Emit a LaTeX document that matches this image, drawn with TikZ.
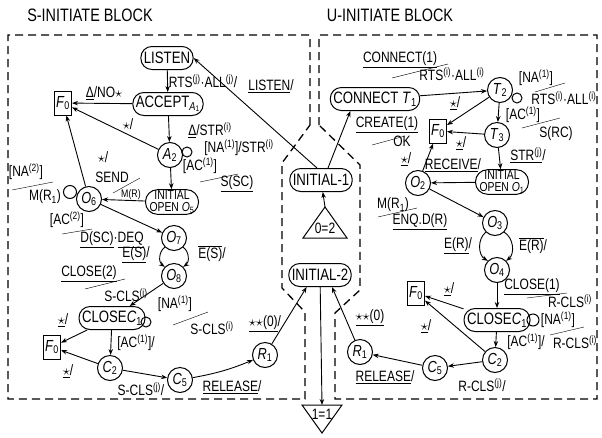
\documentclass[tikz,border=0pt]{standalone}
\usepackage{fontspec}
\setmainfont{Liberation Sans}[FakeStretch=0.8]
\usetikzlibrary{arrows.meta, positioning, calc}

\newcommand\stn[2]{\textit{#1}\textsubscript{#2}}
\newcommand\ovl[1]{$\overline{\mbox{#1}}$}

\tikzset{
  state/.style={draw, circle, minimum size=25pt, inner sep=0pt, line width=1pt, font=\fontsize{16}{16}\selectfont},
  blk/.style={draw, rounded corners=11pt, minimum height=23pt, inner xsep=3pt, line width=1pt, font=\fontsize{16.5}{16}\selectfont},
  twoline/.style={draw, rounded corners=12pt, align=center, inner xsep=4pt, inner ysep=1pt, line width=1pt, font=\fontsize{13}{11.5}\selectfont},
  fbox/.style={draw, minimum width=17pt, minimum height=24pt, inner sep=0pt, line width=1pt, font=\fontsize{16}{16}\selectfont},
  loopc/.style={draw, circle, minimum size=#1, inner sep=0pt, line width=1pt},
  lab/.style={inner sep=0.5pt},
  bound/.style={dash pattern=on 8pt off 5pt, line width=1.3pt},
  tr/.style={-{Stealth[length=6pt,width=4.5pt]}, line width=0.9pt},
}

\begin{document}
\begin{tikzpicture}[x=1pt, y=-1pt, font=\fontsize{15}{15}\selectfont]
  \useasboundingbox (0,0) rectangle (602,437);

  % block titles
  \node[font=\fontsize{18}{18}\selectfont] (stitle) at (90,15) {S-INITIATE BLOCK};
  \node[font=\fontsize{18}{18}\selectfont] (utitle) at (390,15) {U-INITIATE BLOCK};

  % block borders
  \draw[bound] (310,125) -- (310,35) -- (8,35) -- (8,399) -- (305,399) -- (305,312) -- (282,288) -- (282,163) -- cycle;
  \draw[bound] (319,125) -- (319,35) -- (597,35) -- (597,399) -- (335,399) -- (335,313) -- (360,290) -- (360,165) -- cycle;

  % S-initiate states
  \node[blk] (listen) at (167,58) {LISTEN};
  \node[blk] (accept) at (168,104) {ACCEPT\textsubscript{\textit{A}\textsubscript{1}}};
  \node[fbox] (fa) at (63,103) {\stn{F}{0}};
  \node[state] (a2) at (170,155) {\stn{A}{2}};
  \node[loopc=10pt] (a2loop) at (187,152) {};
  \node[twoline] (o5) at (172,202) {INITIAL\\OPEN \stn{O}{5}};
  \node[state] (o6) at (89,199) {\stn{O}{6}};
  \node[loopc=13pt] (o6loop) at (70,192) {};
  \node[state] (o7) at (174,238) {\stn{O}{7}};
  \node[state] (o8) at (174,276) {\stn{O}{8}};
  \node[blk] (closel) at (112,318) {CLOSE\stn{C}{1}};
  \node[loopc=10pt] (closelloop) at (146,322) {};
  \node[fbox] (fb) at (52,347) {\stn{F}{0}};
  \node[state] (c2l) at (110,368) {\stn{C}{2}};
  \node[state] (c5l) at (180,380) {\stn{C}{5}};
  \node[state] (r1l) at (265,355) {\stn{R}{1}};

  % middle
  \node[blk] (init1) at (321,180) {INITIAL-1};
  \draw[line width=1pt] (303,238) -- (325,207) -- (347,238) -- cycle;
  \coordinate (tritop) at (325,207);
  \node (tri) at (325,228) {0=2};
  \node[blk] (init2) at (320,275) {INITIAL-2};
  \draw[line width=1pt] (302,405) -- (342,405) -- (322,433) -- cycle;
  \coordinate (tribot) at (322,405);
  \node (trib) at (322,414) {1=1};

  % U-initiate states
  \node[blk] (conn) at (375,99) {CONNECT \stn{T}{1}};
  \node[state] (t2) at (500,90) {\stn{T}{2}};
  \node[loopc=10pt] (t2loop) at (517,98) {};
  \node[state] (t3) at (497,135) {\stn{T}{3}};
  \node[fbox] (fc) at (438,131) {\stn{F}{0}};
  \node[twoline] (o1) at (502,182) {INITIAL\\OPEN \stn{O}{1}};
  \node[state] (o2) at (418,183) {\stn{O}{2}};
  \node[state] (o3) at (495,223) {\stn{O}{3}};
  \node[state] (o4) at (497,270) {\stn{O}{4}};
  \node[blk] (closer) at (497,320) {CLOSE\stn{C}{1}};
  \node[loopc=12pt] (closerloop) at (533,320) {};
  \node[fbox] (fd) at (416,293) {\stn{F}{0}};
  \node[state] (c2r) at (495,360) {\stn{C}{2}};
  \node[state] (c5r) at (435,368) {\stn{C}{5}};
  \node[state] (r1r) at (360,352) {\stn{R}{1}};

  % S-initiate transitions
  \draw[tr] (listen) -- (accept);
  \draw[tr] (accept) -- (fa);
  \draw[tr] (a2) -- (fa);
  \draw[tr] (accept) -- (a2);
  \draw[tr] (a2) -- (o5);
  \draw[tr] (o5) -- (o6);
  \draw[tr] (o6) -- (fa);
  \draw[tr] (o6) -- (o7);
  \draw[tr] (o7.225) to[bend right=55] (o8.135);
  \draw[tr] (o7.315) to[bend left=55] (o8.45);
  \draw[tr] (o8) -- (closel);
  \draw[tr] (closel) -- (fb);
  \draw[tr] (closel) -- (c2l);
  \draw[tr] (c2l) -- (fb);
  \draw[tr] (c2l) -- (c5l);
  \draw[tr] (c5l) to[bend right=6] (r1l);
  \draw[tr] (r1l) -- (init2.222);

  % middle transitions
  \draw[tr] (tritop) -- (init1);
  \draw[tr] ([xshift=-4pt]init1.north) -- (listen.east);
  \draw[tr] ([xshift=7pt]init1.north) -- (conn.206);
  \draw[tr] (init2) -- (tribot);

  % U-initiate transitions
  \draw[tr] (conn) -- (t2);
  \draw[tr] (t2) -- (t3);
  \draw[tr] (t2) -- (fc);
  \draw[tr] (t3) -- (fc);
  \draw[tr] (t3) -- (o1);
  \draw[tr] (o1) -- (o2);
  \draw[tr] (o2) -- (fc);
  \draw[tr] (o2) -- (o3);
  \draw[tr] (o3.225) to[bend right=55] (o4.135);
  \draw[tr] (o3.315) to[bend left=55] (o4.45);
  \draw[tr] (o4) -- (closer);
  \draw[tr] (closer) -- (fd);
  \draw[tr] (closer) -- (c2r);
  \draw[tr] (c2r) -- (fd);
  \draw[tr] (c2r) -- (c5r);
  \draw[tr] (c5r) -- (r1r);
  \draw[tr] (r1r) -- (init2.-45);

  % S-initiate labels
  \node[lab] (l1) at (104,93) {\underline{Δ}/NO$\star$};
  \node[lab] (l2) at (128,124) {$\star$/};
  \node[lab] (l3) at (203,81) {RTS\textsuperscript{(j)}·ALL\textsuperscript{(j)}/};
  \node[lab] (l4) at (271,86) {\underline{LISTEN}/};
  \node[lab] (l5) at (210,130) {\underline{Δ}/STR\textsuperscript{(i)}};
  \node[lab] (l6) at (239,148) {[NA\textsuperscript{(1)}]/STR\textsuperscript{(i)}};
  \node[lab] (l7) at (200,166) {[AC\textsuperscript{(1)}]};
  \draw (200,182) -- (238,174);
  \node[lab] (l7d) at (237,184) {\underline{S(SC)}};
  \node[lab] (l8) at (103,157) {$\star$/};
  \node[lab] (l9) at (112,177) {SEND};
  \draw (113,193) -- (140,178);
  \node[lab, font=\fontsize{11}{11}\selectfont] (l9d) at (131,195) {M(R)};
  \node[lab] (l10) at (26,172) {[NA\textsuperscript{(2)}]};
  \draw (12,190) -- (53,182);
  \node[lab] (l10d) at (45,197) {M(R\textsubscript{1})};
  \node[lab] (l11) at (67,220) {[AC\textsuperscript{(2)}]};
  \draw (62,234) -- (92,229);
  \node[lab] (l11d) at (112,240) {\underline{D(SC)}·\underline{DEQ}};
  \node[lab] (l12) at (136,255) {\underline{E(S)}/};
  \node[lab] (l13) at (212,254) {\ovl{E(S)}/};
  \node[lab] (l14) at (89,274) {\underline{CLOSE(2)}};
  \draw (85,289) -- (125,279);
  \node[lab] (l14d) at (126,295) {S-CLS\textsuperscript{(i)}};
  \node[lab] (l15) at (175,304) {[NA\textsuperscript{(1)}]};
  \draw (173,325) -- (208,312);
  \node[lab] (l15d) at (212,328) {S-CLS\textsuperscript{(i)}};
  \node[lab] (l16) at (265,324) {\underline{$\star\star$(0)}/};
  \node[lab] (l17) at (63,320) {\underline{$\star$}/};
  \node[lab] (l18) at (136,343) {[AC\textsuperscript{(1)}]/};
  \node[lab] (l19) at (68,371) {\underline{$\star$}/};
  \node[lab] (l20) at (141,389) {S-CLS\textsuperscript{(j)}/};
  \node[lab] (l21) at (232,387) {\underline{RELEASE}/};

  % middle labels
  \node[lab] (l22) at (387,125) {\underline{CREATE(1)}};
  \draw (372,145) -- (405,136);
  \node[lab] (l22d) at (402,141) {OK};
  \node[lab] (l23) at (406,159) {\underline{$\star$}/};

  % U-initiate labels
  \node[lab] (l24) at (400,60) {\underline{CONNECT(1)}};
  \draw (392,78) -- (448,64);
  \node[lab] (l24d) at (452,74) {RTS\textsuperscript{(i)}·ALL\textsuperscript{(i)}};
  \node[lab] (l25) at (455,103) {\underline{$\star$}/};
  \node[lab] (l26) at (536,78) {[NA\textsuperscript{(1)}]};
  \draw (535,92) -- (565,83);
  \node[lab] (l26d) at (564,98) {RTS\textsuperscript{(i)}·ALL\textsuperscript{(i)}};
  \node[lab] (l27) at (523,115) {[AC\textsuperscript{(1)}]};
  \draw (522,128) -- (560,118);
  \node[lab] (l27d) at (556,134) {S(RC)};
  \node[lab] (l28) at (461,143) {\underline{$\star$}/};
  \node[lab] (l29) at (528,155) {\underline{STR\textsuperscript{(j)}}/};
  \node[lab] (l30) at (453,165) {\underline{RECEIVE}/};
  \node[lab] (l31) at (393,205) {M(R\textsubscript{1})};
  \draw (378,217) -- (417,208);
  \node[lab] (l31d) at (420,222) {\underline{ENQ.D(R)}};
  \node[lab] (l32) at (458,246) {\underline{E(R)}/};
  \node[lab] (l33) at (533,246) {\ovl{E(R)}/};
  \node[lab] (l34) at (532,287) {\underline{CLOSE(1)}};
  \draw (527,298) -- (567,293);
  \node[lab] (l34d) at (570,301) {R-CLS\textsuperscript{(i)}};
  \node[lab] (l35) at (558,320) {[NA\textsuperscript{(1)}]};
  \draw (550,335) -- (584,327);
  \node[lab] (l35d) at (575,342) {R-CLS\textsuperscript{(i)}};
  \node[lab] (l36) at (526,342) {[AC\textsuperscript{(1)}]/};
  \node[lab] (l37) at (449,289) {\underline{$\star$}/};
  \node[lab] (l38) at (426,326) {\underline{$\star$}/};
  \node[lab] (l39) at (482,385) {R-CLS\textsuperscript{(j)}/};
  \node[lab] (l40) at (385,377) {\underline{RELEASE}/};
  \node[lab] (l41) at (370,318) {\underline{$\star\star$(0)}};
\end{tikzpicture}
\end{document}
